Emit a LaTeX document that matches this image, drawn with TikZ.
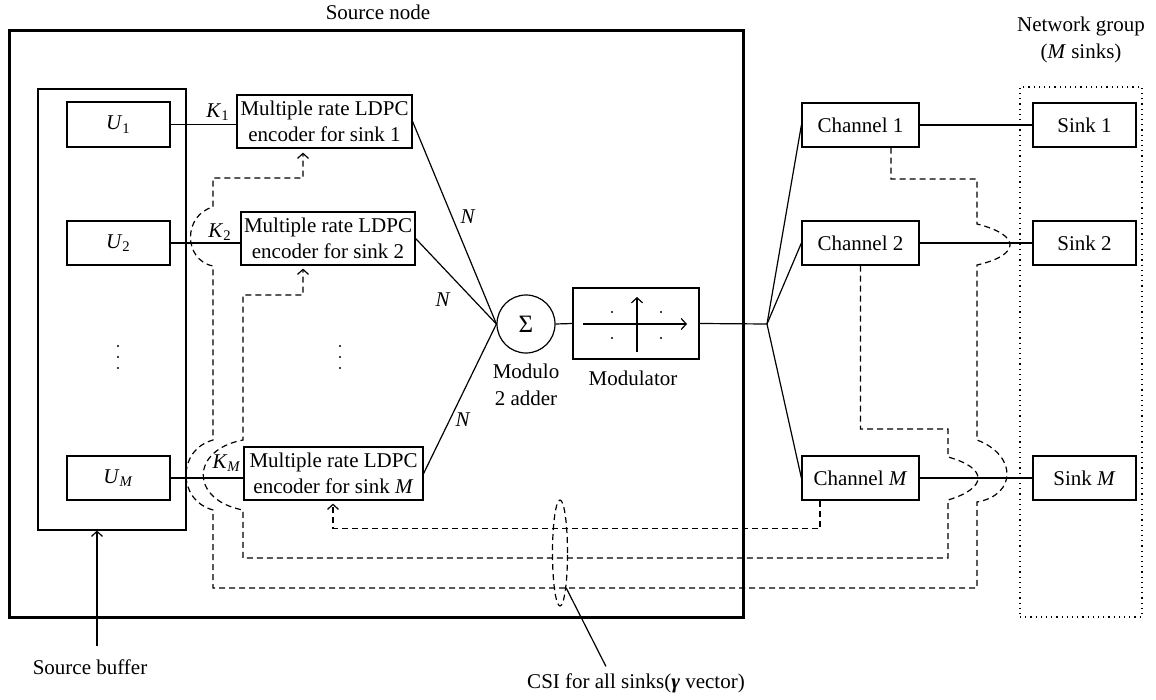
\documentclass[tikz,border=0pt]{standalone}
\usepackage{fontspec}
\setmainfont{Liberation Serif}
\usetikzlibrary{arrows.meta,calc,shapes.geometric}
\newcommand{\vsub}[2]{\textit{#1}\textsubscript{#2}}

\begin{document}
\begin{tikzpicture}[x=0.5pt,y=-0.5pt,
  every node/.style={font=\fontsize{10.5}{13.3}\selectfont},
  box/.style={draw, line width=0.6pt, inner sep=0pt, align=center},
  sz/.style 2 args={minimum width={#1*0.5pt}, minimum height={#2*0.5pt}},
  wire/.style={line width=0.6pt},
  fbline/.style={line width=0.6pt, dash pattern=on 3pt off 2pt},
  arrowtip/.style={-{Straight Barb[length=2.5pt,width=5.5pt]}}
]
\useasboundingbox (0,0) rectangle (1156,700);

% source node frame and its parts
\node[draw, line width=1.5pt, inner sep=0pt, sz={734}{586}] (src) at (376,324) {};
\node (srclbl) at (378,12) {Source node};

\node[box, sz={148}{441}] (buf) at (112,309.5) {};
\node[box, sz={103}{45}] (u1) at (118.5,124.5) {\vsub{U}{1}};
\node[box, sz={103}{44}] (u2) at (118.5,243) {\vsub{U}{2}};
\node[box, sz={103}{44}] (um) at (118.5,478) {\vsub{U}{\textit{M}}};
% vertical ellipses between the rows
\foreach \x in {118,340}
  \foreach \y in {346,357,368}
    \fill (\x,\y) circle (1.2);

\node[box, sz={175}{53}] (e1) at (324.5,121.5) {Multiple rate LDPC\\encoder for sink 1};
\node[box, sz={174}{53}] (e2) at (328,238.5) {Multiple rate LDPC\\encoder for sink 2};
\node[box, sz={179}{53}] (em) at (333.5,473.5) {Multiple rate LDPC\\encoder for sink \textit{M}};

\draw[wire] (u1.east) -- (u1.east -| e1.west);
\draw[wire] (u2.east) -- (u2.east -| e2.west);
\draw[wire] (um.east) -- (um.east -| em.west);
\node (k1) at (218,112) {\vsub{K}{1}};
\node (k2) at (220,232) {\vsub{K}{2}};
\node (km) at (227,463) {\vsub{K}{\textit{M}}};

% modulo-2 adder and modulator
\node[draw, circle, line width=0.6pt, minimum size=29pt, inner sep=0pt] (add) at (526,324) {\fontsize{12.5}{12.5}\selectfont Σ};
\node[align=center] (addl) at (526,385) {Modulo\\2 adder};
\draw[wire] (e1.east) -- (add.west);
\draw[wire] (e2.east) -- (add.west);
\draw[wire] (em.east) -- (add.west);
\node (n1) at (468,217) {\textit{N}};
\node (n2) at (443,300) {\textit{N}};
\node (n3) at (463,420) {\textit{N}};

\node[box, sz={126}{71}] (mod) at (636,323.5) {};
\node (modl) at (633,378) {Modulator};
\draw[wire] (add.east) -- (mod.west);
\draw[wire, arrowtip] ($(mod.center)+(-53,0.5)$) -- ($(mod.center)+(51,0.5)$);
\draw[wire, arrowtip] ($(mod.center)+(1,28.5)$) -- ($(mod.center)+(1,-26.5)$);
\foreach \dx/\dy in {-24/-11.5, 25/-11.5, -24/14.5, 25/14.5}
  \fill ($(mod.center)+(\dx,\dy)$) circle (1.1);

% channels and sinks
\coordinate (jn) at (767,324);
\draw[wire] (mod.east) -- (jn);
\node[box, sz={117}{44}] (c1) at (860.5,125) {Channel 1};
\node[box, sz={117}{44}] (c2) at (860.5,243) {Channel 2};
\node[box, sz={117}{44}] (cm) at (860.5,478) {Channel \textit{M}};
\draw[wire] (jn) -- (c1.west);
\draw[wire] (jn) -- (c2.west);
\draw[wire] (jn) -- (cm.west);

\node[draw, line width=0.6pt, dash pattern=on 0.6pt off 2pt, inner sep=0pt, sz={122}{530}] (grp) at (1081,352) {};
\node[align=center] (grpl) at (1081,40) {Network group\\(\textit{M} sinks)};
\node[box, sz={103}{44}] (s1) at (1084.5,125) {Sink 1};
\node[box, sz={103}{44}] (s2) at (1084.5,243) {Sink 2};
\node[box, sz={103}{44}] (sm) at (1084.5,478) {Sink \textit{M}};
\draw[wire] (c1.east) -- (s1.west);
\draw[wire] (c2.east) -- (s2.west);
\draw[wire] (cm.east) -- (sm.west);

% channel state feedback to the encoders
\draw[fbline, arrowtip, shorten >=2pt]
  ($(c1.south)+(30.5,0)$) |- (977,179) -- (977,224)
  .. controls (1021,235) and (1021,255) .. (977,265)
  -- (977,440) .. controls (1017,455) and (1017,495) .. (977,502)
  -- (977,588) -- (213,588) -- (213,510)
  .. controls (177,500) and (177,450) .. (213,440)
  -- (213,266) .. controls (183,260) and (183,215) .. (213,207)
  -- (213,178) -- (303,178) -- (e1.south -| 303,0);

\draw[fbline, arrowtip, shorten >=1.5pt]
  (c2.south) |- (948,429) -- (948,457)
  .. controls (988,468) and (988,488) .. (948,500)
  -- (948,558) -- (243,558) -- (243,510)
  .. controls (190,500) and (190,450) .. (243,440)
  -- (243,295) -- (303,295) -- (e2.south -| 303,0);

\draw[fbline, arrowtip, shorten >=1.5pt]
  ($(cm.south)+(-40.5,0)$) |- (333,528.5) -- (em.south -| 333,0);

% CSI bundle marker
\node[draw, fbline, ellipse, inner sep=0pt, minimum width=7.5pt, minimum height=53pt] (csie) at (560,553) {};
\node (csil) at (636,683) {CSI for all sinks(\textbf{\textit{γ}} vector)};
\draw[wire] (csie.-80) -- ($(csil.north west)!0.37!(csil.north east)$);

% source buffer label
\node (sbl) at (90,667) {Source buffer};
\coordinate (sbt) at ($(sbl.north)+(7,-6)$);
\draw[wire, arrowtip] (sbt) -- (sbt |- buf.south);
\end{tikzpicture}
\end{document}
